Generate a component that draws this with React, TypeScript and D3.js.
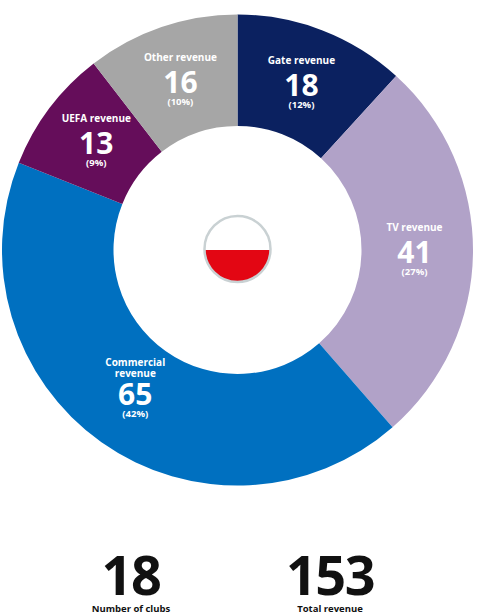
import React from 'react'
import * as d3 from 'd3'

// revenue breakdown, clockwise from 12 o'clock
const categories = ['Gate revenue', 'TV revenue', 'Commercial revenue', 'UEFA revenue', 'Other revenue']
const values = [18, 41, 65, 13, 16]
const percents = ['12%', '27%', '42%', '9%', '10%']
const colors = ['#0b2160', '#b1a2c8', '#0070c0', '#650d5a', '#a6a6a6']

const clubCount = 18
const totalRevenue = 153
const footerLabels = ['Number of clubs', 'Total revenue']

const width = 485
const height = 615
const cx = 237.5
const cy = 250
const outerR = 235.5
const innerR = 124
const labelR = 177
const font = '"Open Sans", "DejaVu Sans", sans-serif'

const splitLabel = (s: string) => (s.length > 14 ? s.split(' ') : [s])

const App = () => {
  const pie = d3
    .pie<number>()
    .sort(null)
    .value(d => d)
  const arcs = pie(values)

  const arcGen = d3.arc<d3.PieArcDatum<number>>().innerRadius(innerR).outerRadius(outerR)
  const labelArc = d3.arc<d3.PieArcDatum<number>>().innerRadius(labelR).outerRadius(labelR)

  const footerX = d3.scalePoint<string>().domain(footerLabels).range([131, 330])

  return (
    <svg width={width} height={height} style={{ position: 'absolute', left: 0, top: 0 }} fontFamily={font}>
      <rect width={width} height={height} fill='#fff' />
      <g transform={`translate(${cx},${cy})`}>
        {arcs.map((a, i) => (
          <path key={categories[i]} d={arcGen(a) || ''} fill={colors[i]} />
        ))}
        {arcs.map((a, i) => {
          const [x, y] = labelArc.centroid(a)
          const lines = splitLabel(categories[i])
          const base = y + 11
          return (
            <g key={'l' + i} fill='#fff' textAnchor='middle' fontWeight={700}>
              {lines.map((ln, j) => (
                <text key={j} x={x} y={base - (lines.length > 1 ? 28 + (lines.length - 1 - j) * 11 : 32)} fontSize={10}>
                  {ln}
                </text>
              ))}
              <text x={x} y={base} fontSize={30}>
                {values[i]}
              </text>
              <text x={x} y={base + 12} fontSize={9.5}>
                ({percents[i]})
              </text>
            </g>
          )
        })}
        {/* Polish flag badge */}
        <defs>
          <clipPath id='flagClip'>
            <circle r={33} cy={-1} />
          </clipPath>
        </defs>
        <g clipPath='url(#flagClip)'>
          <rect x={-34} y={-35} width={68} height={35} fill='#fff' />
          <rect x={-34} y={0} width={68} height={35} fill='#e30613' />
        </g>
        <circle r={33} cy={-1} fill='none' stroke='#c9d1d3' strokeWidth={2.5} />
      </g>
      <g textAnchor='middle' fill='#111' fontWeight={700}>
        <text x={footerX(footerLabels[0])} y={595} fontSize={54} letterSpacing={-1.5}>
          {clubCount}
        </text>
        <text x={footerX(footerLabels[1])} y={595} fontSize={54} letterSpacing={-1.5}>
          {totalRevenue}
        </text>
        {footerLabels.map(l => (
          <text key={l} x={footerX(l)} y={611.5} fontSize={9.5}>
            {l}
          </text>
        ))}
      </g>
    </svg>
  )
}

export default App
